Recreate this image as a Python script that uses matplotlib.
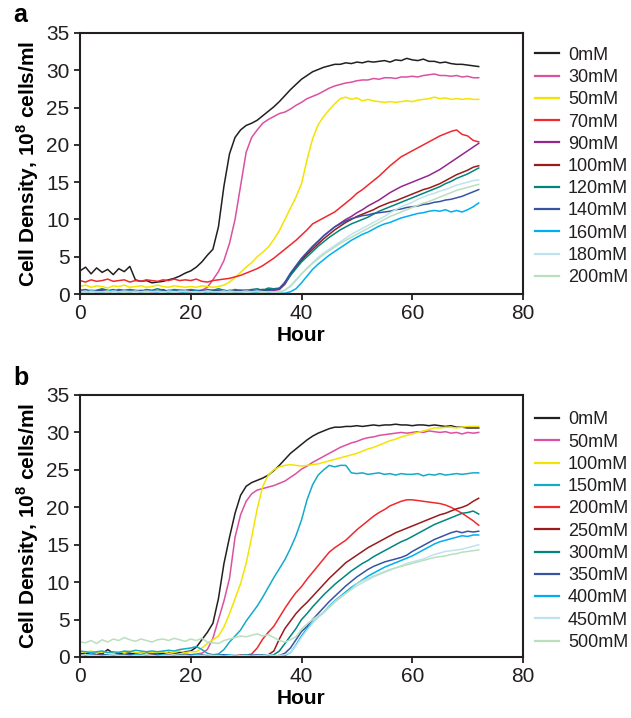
import matplotlib
matplotlib.use('Agg')
import matplotlib.pyplot as plt
import numpy as np

plt.rcParams['font.family'] = ['Liberation Sans', 'DejaVu Sans']
plt.rcParams['mathtext.fontset'] = 'custom'
plt.rcParams['mathtext.rm'] = 'Liberation Sans'
plt.rcParams['mathtext.bf'] = 'Liberation Sans:bold'

hours = list(range(0, 73))

# ---- panel a ----
labels_a = ['0mM', '30mM', '50mM', '70mM', '90mM', '100mM', '120mM',
            '140mM', '160mM', '180mM', '200mM']

a_0 = [3.1, 3.6, 2.7, 3.5, 2.9, 3.3, 2.6, 3.4, 3.0, 3.7,
       1.9, 1.7, 1.8, 1.5, 1.6, 1.7, 1.9, 2.1, 2.4, 2.8,
       3.1, 3.6, 4.3, 5.2, 6.0, 9.0, 14.5, 18.8, 21.0, 22.0,
       22.6, 22.9, 23.3, 23.9, 24.5, 25.1, 25.8, 26.6, 27.4, 28.1,
       28.8, 29.3, 29.8, 30.1, 30.4, 30.6, 30.8, 30.8, 31.0, 30.9,
       31.1, 31.0, 31.2, 31.1, 31.2, 31.3, 31.1, 31.4, 31.3, 31.6,
       31.4, 31.3, 31.5, 31.2, 31.2, 31.0, 31.1, 30.9, 30.8, 30.8,
       30.7, 30.6, 30.5]
a_30 = [0.3, 0.4, 0.2, 0.3, 0.5, 0.3, 0.2, 0.4, 0.3, 0.2,
        0.3, 0.4, 0.2, 0.3, 0.3, 0.4, 0.2, 0.3, 0.4, 0.3,
        0.3, 0.4, 0.5, 0.9, 1.9, 3.0, 4.5, 6.8, 10.0, 14.5,
        19.0, 21.0, 22.0, 22.9, 23.4, 23.8, 24.2, 24.4, 24.8, 25.3,
        25.7, 26.2, 26.5, 26.8, 27.2, 27.6, 27.9, 28.1, 28.3, 28.4,
        28.6, 28.7, 28.7, 28.9, 28.8, 29.0, 29.0, 28.9, 29.1, 29.1,
        29.2, 29.1, 29.3, 29.4, 29.5, 29.3, 29.3, 29.2, 29.3, 29.1,
        29.2, 29.0, 29.0]
a_50 = [1.0, 1.2, 0.9, 1.1, 1.0, 0.8, 1.1, 1.0, 1.2, 0.9,
        1.0, 1.1, 0.9, 1.0, 1.2, 1.0, 0.9, 1.1, 1.0, 0.9,
        1.0, 0.9, 1.1, 1.0, 0.9, 1.0, 1.2, 1.6, 2.2, 2.9,
        3.6, 4.2, 5.0, 5.6, 6.3, 7.3, 8.5, 10.0, 11.5, 13.0,
        14.8, 18.0, 20.8, 22.7, 23.8, 24.7, 25.5, 26.2, 26.4, 26.1,
        26.3, 25.9, 26.1, 25.9, 25.8, 25.7, 25.8, 25.7, 25.8, 25.9,
        25.8, 26.0, 26.1, 26.2, 26.4, 26.2, 26.3, 26.1, 26.2, 26.1,
        26.2, 26.1, 26.1]
a_70 = [1.8, 1.6, 1.9, 1.7, 1.8, 2.0, 1.7, 1.8, 1.9, 1.6,
        1.8, 1.7, 1.9, 1.8, 1.7, 1.9, 1.8, 2.0, 1.8, 1.9,
        1.8, 2.0, 1.7, 1.6, 1.8, 1.9, 2.0, 2.1, 2.3, 2.5,
        2.8, 3.1, 3.4, 3.8, 4.3, 4.8, 5.4, 6.0, 6.6, 7.2,
        7.9, 8.6, 9.4, 9.8, 10.2, 10.6, 11.0, 11.6, 12.2, 12.8,
        13.5, 14.0, 14.6, 15.2, 15.8, 16.5, 17.2, 17.8, 18.4, 18.8,
        19.2, 19.6, 20.0, 20.4, 20.8, 21.2, 21.5, 21.8, 22.0, 21.4,
        21.2, 20.6, 20.4]
a_90 = [0.3, 0.4, 0.2, 0.3, 0.5, 0.3, 0.2, 0.4, 0.3, 0.5,
        0.3, 0.2, 0.4, 0.3, 0.3, 0.5, 0.2, 0.3, 0.4, 0.3,
        0.5, 0.3, 0.2, 0.4, 0.3, 0.3, 0.5, 0.2, 0.4, 0.3,
        0.3, 0.5, 0.3, 0.4, 0.6, 0.5, 0.6, 1.3, 2.5, 3.5,
        4.5, 5.5, 6.3, 7.0, 7.8, 8.4, 9.0, 9.5, 10.0, 10.4,
        10.9, 11.3, 11.8, 12.2, 12.6, 13.1, 13.6, 14.0, 14.4, 14.7,
        15.0, 15.3, 15.6, 15.9, 16.3, 16.7, 17.2, 17.7, 18.2, 18.7,
        19.2, 19.7, 20.2]
a_100 = [0.4, 0.3, 0.5, 0.4, 0.3, 0.4, 0.6, 0.3, 0.4, 0.5,
         0.4, 0.3, 0.5, 0.4, 0.4, 0.3, 0.5, 0.4, 0.3, 0.4,
         0.5, 0.4, 0.3, 0.4, 0.5, 0.4, 0.3, 0.5, 0.4, 0.4,
         0.5, 0.3, 0.4, 0.6, 0.5, 0.7, 0.7, 1.5, 2.6, 3.6,
         4.5, 5.3, 6.0, 6.7, 7.4, 8.0, 8.6, 9.1, 9.6, 10.0,
         10.4, 10.7, 11.0, 11.3, 11.7, 12.0, 12.3, 12.5, 12.8, 13.1,
         13.4, 13.7, 14.0, 14.2, 14.5, 14.8, 15.2, 15.6, 16.0, 16.3,
         16.6, 17.0, 17.2]
a_120 = [0.5, 0.6, 0.4, 0.5, 0.7, 0.5, 0.4, 0.6, 0.5, 0.6,
         0.5, 0.4, 0.6, 0.5, 0.7, 0.5, 0.4, 0.6, 0.5, 0.5,
         0.6, 0.5, 0.4, 0.6, 0.5, 0.7, 0.5, 0.4, 0.6, 0.5,
         0.5, 0.6, 0.7, 0.5, 0.8, 0.7, 0.8, 1.5, 2.5, 3.4,
         4.3, 5.0, 5.7, 6.4, 7.0, 7.6, 8.1, 8.6, 9.0, 9.4,
         9.7, 10.0, 10.3, 10.7, 11.1, 11.4, 11.7, 12.0, 12.3, 12.6,
         12.9, 13.2, 13.5, 13.8, 14.1, 14.4, 14.8, 15.1, 15.5, 15.8,
         16.1, 16.5, 16.9]
a_140 = [0.4, 0.5, 0.3, 0.4, 0.6, 0.4, 0.3, 0.5, 0.4, 0.3,
         0.4, 0.5, 0.3, 0.4, 0.4, 0.6, 0.3, 0.4, 0.5, 0.4,
         0.3, 0.4, 0.5, 0.4, 0.3, 0.5, 0.4, 0.4, 0.3, 0.5,
         0.4, 0.4, 0.5, 0.6, 0.5, 0.6, 0.7, 1.6, 2.8, 3.8,
         4.8, 5.6, 6.4, 7.1, 7.8, 8.4, 9.0, 9.4, 9.8, 10.1,
         10.3, 10.5, 10.6, 10.8, 10.9, 11.0, 11.1, 11.3, 11.4, 11.6,
         11.7, 11.8, 12.0, 12.1, 12.3, 12.4, 12.6, 12.7, 12.9, 13.1,
         13.4, 13.7, 14.0]
a_160 = [0.3, 0.2, 0.4, 0.3, 0.2, 0.3, 0.5, 0.2, 0.3, 0.4,
         0.2, 0.3, 0.3, 0.4, 0.2, 0.3, 0.2, 0.4, 0.3, 0.2,
         0.3, 0.4, 0.2, 0.3, 0.3, 0.2, 0.4, 0.3, 0.2, 0.3,
         0.2, 0.3, 0.2, 0.3, 0.2, 0.1, 0.1, 0.1, 0.3, 0.7,
         1.5, 2.4, 3.3, 4.0, 4.6, 5.2, 5.7, 6.2, 6.7, 7.2,
         7.6, 8.0, 8.3, 8.7, 9.1, 9.4, 9.6, 9.9, 10.2, 10.4,
         10.6, 10.8, 10.9, 11.1, 11.2, 11.1, 11.3, 11.0, 11.2, 11.0,
         11.3, 11.7, 12.2]
a_180 = [0.3, 0.4, 0.2, 0.3, 0.3, 0.4, 0.2, 0.3, 0.4, 0.3,
         0.2, 0.3, 0.4, 0.3, 0.3, 0.2, 0.4, 0.3, 0.3, 0.4,
         0.3, 0.2, 0.3, 0.4, 0.3, 0.3, 0.2, 0.4, 0.3, 0.3,
         0.2, 0.3, 0.4, 0.3, 0.3, 0.2, 0.3, 0.5, 1.0, 1.8,
         2.7, 3.5, 4.2, 4.9, 5.5, 6.0, 6.5, 7.0, 7.5, 8.0,
         8.4, 8.8, 9.2, 9.6, 10.0, 10.4, 10.9, 11.3, 11.7, 12.0,
         12.3, 12.7, 13.0, 13.3, 13.5, 13.8, 14.0, 14.3, 14.6, 14.8,
         15.0, 15.2, 15.3]
a_200 = [0.3, 0.2, 0.4, 0.3, 0.3, 0.2, 0.4, 0.3, 0.2, 0.3,
         0.4, 0.3, 0.2, 0.3, 0.4, 0.3, 0.3, 0.2, 0.4, 0.3,
         0.3, 0.3, 0.2, 0.4, 0.3, 0.3, 0.4, 0.2, 0.3, 0.3,
         0.4, 0.3, 0.3, 0.2, 0.3, 0.3, 0.3, 0.5, 1.1, 1.9,
         2.7, 3.4, 4.1, 4.7, 5.3, 5.8, 6.3, 6.8, 7.2, 7.6,
         8.0, 8.4, 8.8, 9.2, 9.6, 10.0, 10.4, 10.7, 11.0, 11.3,
         11.6, 11.9, 12.2, 12.4, 12.7, 13.0, 13.3, 13.6, 13.9, 14.1,
         14.3, 14.5, 14.7]

# ---- panel b ----
labels_b = ['0mM', '50mM', '100mM', '150mM', '200mM', '250mM', '300mM',
            '350mM', '400mM', '450mM', '500mM']

b_0 = [0.5, 0.4, 0.6, 0.5, 0.4, 1.0, 0.5, 0.4, 0.6, 0.5,
       0.4, 0.5, 0.6, 0.5, 0.4, 0.5, 0.6, 0.5, 0.6, 0.7,
       0.8, 1.3, 2.3, 3.3, 4.5, 7.8, 12.5, 16.0, 19.2, 21.6,
       22.8, 23.3, 23.6, 23.9, 24.3, 24.9, 25.6, 26.4, 27.2, 27.8,
       28.4, 29.0, 29.5, 29.9, 30.2, 30.5, 30.7, 30.7, 30.8, 30.8,
       30.9, 30.8, 30.9, 31.0, 30.9, 31.0, 31.0, 31.1, 31.0, 31.0,
       30.9, 31.0, 31.0, 30.9, 31.0, 30.9, 30.8, 30.9, 30.7, 30.7,
       30.6, 30.6, 30.6]
b_50 = [0.3, 0.2, 0.4, 0.3, 0.3, 0.2, 0.4, 0.3, 0.2, 0.3,
        0.3, 0.4, 0.2, 0.3, 0.3, 0.2, 0.4, 0.3, 0.3, 0.4,
        0.3, 0.4, 0.5, 1.0, 2.5, 5.0, 7.5, 10.5, 16.0, 19.0,
        20.8, 21.8, 22.3, 22.5, 22.7, 22.9, 23.2, 23.5, 24.0, 24.5,
        25.1, 25.5, 26.0, 26.4, 26.8, 27.2, 27.6, 28.0, 28.3, 28.6,
        28.8, 29.1, 29.3, 29.4, 29.6, 29.7, 29.8, 29.9, 30.0, 29.9,
        30.0, 30.1, 30.0, 30.2, 30.1, 30.0, 30.1, 29.9, 30.0, 29.8,
        30.0, 29.9, 30.0]
b_100 = [0.7, 0.6, 0.8, 0.5, 0.7, 0.6, 0.5, 0.7, 0.6, 0.8,
         0.6, 0.5, 0.7, 0.6, 0.6, 0.7, 0.5, 0.6, 0.8, 0.6,
         0.7, 0.7, 1.2, 1.8, 2.3, 2.8, 4.0, 5.8, 7.8, 9.8,
         12.5, 16.0, 19.8, 22.8, 24.3, 25.0, 25.4, 25.6, 25.7, 25.6,
         25.5, 25.6, 25.7, 25.8, 26.0, 26.2, 26.4, 26.6, 26.8, 27.0,
         27.2, 27.5, 27.8, 28.0, 28.3, 28.6, 28.9, 29.1, 29.4, 29.6,
         29.8, 30.0, 30.2, 30.4, 30.6, 30.6, 30.7, 30.7, 30.6, 30.7,
         30.8, 30.8, 30.8]
b_150 = [0.8, 0.7, 0.6, 0.7, 0.8, 0.6, 0.7, 0.6, 0.8, 0.7,
         0.9, 0.8, 0.7, 0.8, 0.7, 0.8, 0.9, 0.8, 1.0, 1.1,
         1.2, 1.4, 1.0, 0.5, 0.3, 0.4, 1.0, 2.0, 2.8, 3.6,
         4.8, 5.8, 6.8, 8.0, 9.3, 10.6, 11.8, 13.0, 14.5, 16.2,
         18.3, 21.0, 23.0, 24.3, 25.0, 25.6, 25.4, 25.6, 25.6, 24.6,
         24.5, 24.6, 24.4, 24.5, 24.6, 24.4, 24.5, 24.3, 24.5, 24.4,
         24.4, 24.5, 24.2, 24.4, 24.3, 24.5, 24.3, 24.4, 24.5, 24.4,
         24.5, 24.6, 24.6]
b_200 = [0.2, 0.3, 0.2, 0.1, 0.3, 0.2, 0.2, 0.3, 0.1, 0.2,
         0.3, 0.2, 0.2, 0.1, 0.3, 0.2, 0.2, 0.3, 0.2, 0.1,
         0.2, 0.3, 0.2, 0.2, 0.1, 0.2, 0.3, 0.2, 0.2, 0.3,
         0.2, 0.4, 1.2, 2.4, 3.3, 4.1, 5.3, 6.5, 7.6, 8.6,
         9.4, 10.4, 11.3, 12.2, 13.1, 14.0, 14.6, 15.1, 15.6, 16.3,
         17.0, 17.6, 18.2, 18.8, 19.3, 19.7, 20.2, 20.5, 20.8, 21.0,
         21.0, 20.9, 20.8, 20.7, 20.6, 20.5, 20.3, 20.0, 19.6, 19.2,
         18.7, 18.2, 17.6]
b_250 = [0.2, 0.1, 0.2, 0.3, 0.2, 0.2, 0.1, 0.2, 0.3, 0.2,
         0.2, 0.1, 0.3, 0.2, 0.2, 0.1, 0.2, 0.3, 0.2, 0.2,
         0.1, 0.2, 0.3, 0.2, 0.2, 0.1, 0.2, 0.2, 0.3, 0.2,
         0.2, 0.1, 0.2, 0.3, 0.3, 0.8, 2.4, 3.8, 4.8, 5.8,
         6.6, 7.3, 8.1, 8.9, 9.7, 10.5, 11.2, 11.9, 12.6, 13.1,
         13.6, 14.1, 14.6, 15.0, 15.4, 15.8, 16.2, 16.6, 16.9, 17.2,
         17.5, 17.8, 18.1, 18.4, 18.7, 19.0, 19.2, 19.5, 19.8, 20.0,
         20.3, 20.8, 21.2]
b_300 = [0.2, 0.3, 0.2, 0.2, 0.1, 0.3, 0.2, 0.2, 0.3, 0.1,
         0.2, 0.3, 0.2, 0.2, 0.3, 0.2, 0.1, 0.2, 0.3, 0.2,
         0.2, 0.3, 0.2, 0.1, 0.2, 0.3, 0.2, 0.2, 0.1, 0.2,
         0.3, 0.2, 0.2, 0.3, 0.2, 0.3, 0.8, 1.8, 2.8, 3.8,
         5.0, 5.8, 6.7, 7.5, 8.3, 9.0, 9.7, 10.3, 10.9, 11.5,
         12.0, 12.5, 12.9, 13.4, 13.8, 14.2, 14.6, 15.0, 15.4, 15.7,
         16.1, 16.5, 16.9, 17.3, 17.7, 18.0, 18.3, 18.6, 18.9, 19.2,
         19.3, 19.5, 19.1]
b_350 = [0.2, 0.1, 0.2, 0.2, 0.3, 0.2, 0.1, 0.2, 0.2, 0.3,
         0.2, 0.2, 0.1, 0.2, 0.3, 0.2, 0.2, 0.1, 0.2, 0.2,
         0.3, 0.2, 0.2, 0.1, 0.2, 0.2, 0.3, 0.2, 0.1, 0.2,
         0.2, 0.2, 0.3, 0.2, 0.2, 0.1, 0.2, 0.5, 1.2, 2.3,
         3.4, 4.1, 5.0, 5.8, 6.6, 7.4, 8.1, 8.8, 9.5, 10.1,
         10.7, 11.2, 11.7, 12.1, 12.4, 12.7, 12.9, 13.1, 13.3, 13.6,
         14.1, 14.5, 14.9, 15.3, 15.7, 16.0, 16.3, 16.6, 16.8, 16.6,
         16.8, 16.7, 16.8]
b_400 = [0.2, 0.2, 0.3, 0.1, 0.2, 0.2, 0.3, 0.2, 0.1, 0.2,
         0.3, 0.2, 0.2, 0.1, 0.2, 0.3, 0.2, 0.2, 0.1, 0.2,
         0.2, 0.3, 0.2, 0.2, 0.1, 0.2, 0.2, 0.3, 0.2, 0.1,
         0.2, 0.2, 0.1, 0.2, 0.2, 0.1, 0.1, 0.2, 0.6, 1.6,
         2.8, 3.8, 4.6, 5.3, 6.0, 6.8, 7.5, 8.1, 8.7, 9.3,
         9.8, 10.3, 10.8, 11.2, 11.6, 12.0, 12.3, 12.6, 12.9, 13.2,
         13.5, 13.9, 14.3, 14.7, 15.1, 15.4, 15.6, 15.8, 16.0, 16.2,
         16.1, 16.3, 16.3]
b_450 = [0.2, 0.3, 0.2, 0.2, 0.1, 0.2, 0.3, 0.2, 0.2, 0.1,
         0.2, 0.2, 0.3, 0.2, 0.1, 0.2, 0.2, 0.3, 0.2, 0.2,
         0.1, 0.2, 0.2, 0.3, 0.2, 0.2, 0.1, 0.2, 0.3, 0.2,
         0.2, 0.1, 0.2, 0.2, 0.3, 0.2, 0.2, 0.3, 0.6, 1.5,
         2.6, 3.6, 4.5, 5.3, 6.0, 6.7, 7.4, 8.0, 8.5, 9.0,
         9.5, 9.9, 10.3, 10.7, 11.0, 11.3, 11.6, 11.9, 12.2, 12.5,
         12.7, 12.9, 13.1, 13.4, 13.7, 13.9, 14.1, 14.2, 14.3, 14.4,
         14.6, 14.8, 15.0]
b_500 = [2.0, 1.9, 2.2, 1.8, 2.3, 2.0, 2.4, 2.2, 2.6, 2.3,
         2.1, 2.4, 2.2, 2.0, 2.3, 2.4, 2.2, 2.5, 2.3, 2.1,
         2.4, 2.2, 2.5, 2.0, 1.9, 1.8, 2.2, 2.4, 2.6, 2.8,
         2.7, 2.9, 3.1, 2.8, 3.0, 2.6, 2.2, 2.0, 2.3, 2.7,
         3.7, 4.4, 5.0, 5.5, 5.9, 6.6, 7.3, 7.9, 8.5, 9.1,
         9.8, 10.2, 10.5, 10.8, 11.1, 11.4, 11.7, 11.9, 12.1, 12.3,
         12.5, 12.7, 12.9, 13.1, 13.3, 13.4, 13.5, 13.7, 13.8, 14.0,
         14.1, 14.2, 14.3]

colors_a = ['#231f20', '#dc50a2', '#f3e400', '#ee2a2e', '#93278f', '#981b1e',
            '#00877c', '#3953a4', '#00aeef', '#bfe3ee', '#badfbf']
colors_b = ['#231f20', '#dc50a2', '#f3e400', '#14aac8', '#ee2a2e', '#981b1e',
            '#00877c', '#3953a4', '#00aeef', '#bfe3ee', '#badfbf']

series_a = [a_0, a_30, a_50, a_70, a_90, a_100, a_120, a_140, a_160, a_180, a_200]
series_b = [b_0, b_50, b_100, b_150, b_200, b_250, b_300, b_350, b_400, b_450, b_500]

W, H = 631, 718
fig = plt.figure(figsize=(W / 100, H / 100), dpi=100)

panels = [
    (series_a, labels_a, colors_a, 294, 33, 'a', 22, 53.3),
    (series_b, labels_b, colors_b, 657, 395, 'b', 385, 418),
]

for series, labels, colors, ybot, ytop, tag, tag_y, first_row in panels:
    ax = fig.add_axes([80 / W, (H - ybot) / H, 443 / W, (ybot - ytop) / H])
    for vals, lab, col in zip(series, labels, colors):
        ax.plot(hours, vals, color=col, lw=1.1, label=lab)
    ax.set_xlim(0, 80)
    ax.set_ylim(0, 35)
    ax.set_xticks([0, 20, 40, 60, 80])
    ax.set_yticks([0, 5, 10, 15, 20, 25, 30, 35])
    ax.tick_params(direction='out', length=4.5, width=1.3, labelsize=15,
                   colors='#231f20', pad=3)
    for s in ax.spines.values():
        s.set_linewidth(1.5)
        s.set_color('#231f20')
    ax.set_xlabel('Hour', fontsize=15, fontweight='bold', labelpad=2)
    ax.set_ylabel(r'Cell Density, 10$^{\mathbf{8}}$ cells/ml', fontsize=15,
                  fontweight='bold', labelpad=4)
    leg = ax.legend(loc='upper left', bbox_to_anchor=(535 / W, 1 - (first_row - 6.5) / H),
                    bbox_transform=fig.transFigure, frameon=False, fontsize=13,
                    handlelength=1.33, handletextpad=0.5, labelspacing=0.29,
                    borderpad=0, borderaxespad=0)
    for t in leg.get_texts():
        t.set_color('#231f20')
    for h in leg.get_lines():
        h.set_linewidth(1.6)
    fig.text(13 / W, 1 - tag_y / H, tag, fontsize=18, fontweight='bold',
             va='baseline', ha='left')

fig.savefig('out.png', dpi=100)
